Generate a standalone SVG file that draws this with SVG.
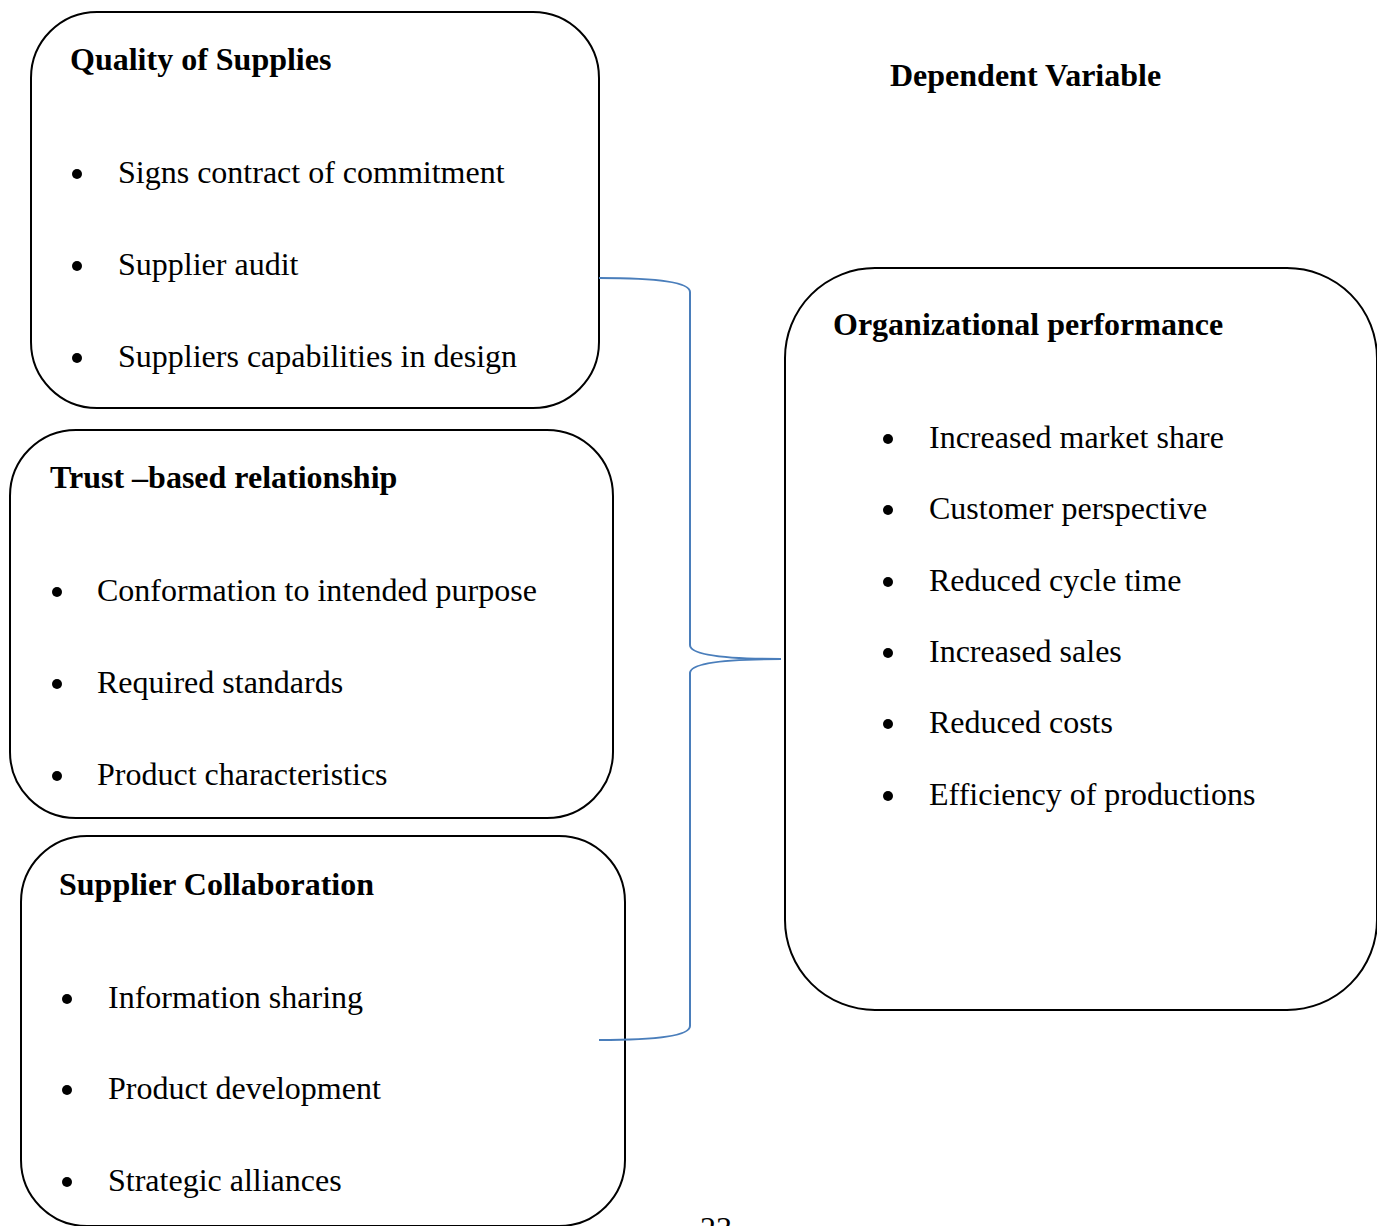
<svg xmlns="http://www.w3.org/2000/svg" width="1377" height="1226" viewBox="0 0 1377 1226">
<style>
.box{fill:#fff;stroke:#000;stroke-width:2}
.h{font-family:"Liberation Serif","Times New Roman",serif;font-weight:bold;font-size:32px;fill:#000}
.t{font-family:"Liberation Serif","Times New Roman",serif;font-size:32px;fill:#000}
.b{fill:#000}
.brace{fill:none;stroke:#4a7ebb;stroke-width:2}
</style>
<rect width="1377" height="1226" fill="#fff"/>
<text class="h" x="890" y="86">Dependent Variable</text>
<g id="quality">
<rect class="box" x="31" y="12" width="568" height="396" rx="66" ry="66"/>
<text class="h" x="70" y="70">Quality of Supplies</text>
<circle class="b" cx="77" cy="174" r="5"/><text class="t" x="118" y="183">Signs contract of commitment</text>
<circle class="b" cx="77" cy="266" r="5"/><text class="t" x="118" y="275">Supplier audit</text>
<circle class="b" cx="77" cy="358" r="5"/><text class="t" x="118" y="367">Suppliers capabilities in design</text>
</g>
<g id="trust">
<rect class="box" x="10" y="430" width="603" height="388" rx="66" ry="66"/>
<text class="h" x="50" y="488">Trust –based relationship</text>
<circle class="b" cx="57" cy="592" r="5"/><text class="t" x="97" y="601">Conformation to intended purpose</text>
<circle class="b" cx="57" cy="684" r="5"/><text class="t" x="97" y="693">Required standards</text>
<circle class="b" cx="57" cy="776" r="5"/><text class="t" x="97" y="785">Product characteristics</text>
</g>
<g id="collab">
<rect class="box" x="21" y="836" width="604" height="390" rx="66" ry="66"/>
<text class="h" x="59" y="895">Supplier Collaboration</text>
<circle class="b" cx="67" cy="999" r="5"/><text class="t" x="108" y="1008">Information sharing</text>
<circle class="b" cx="67" cy="1090" r="5"/><text class="t" x="108" y="1099">Product development</text>
<circle class="b" cx="67" cy="1182" r="5"/><text class="t" x="108" y="1191">Strategic alliances</text>
</g>
<g id="org">
<rect class="box" x="785" y="268" width="592" height="742" rx="90" ry="90"/>
<text class="h" x="833" y="335">Organizational performance</text>
<circle class="b" cx="888" cy="439" r="5"/><text class="t" x="929" y="448">Increased market share</text>
<circle class="b" cx="888" cy="510" r="5"/><text class="t" x="929" y="519">Customer perspective</text>
<circle class="b" cx="888" cy="582" r="5"/><text class="t" x="929" y="591">Reduced cycle time</text>
<circle class="b" cx="888" cy="653" r="5"/><text class="t" x="929" y="662">Increased sales</text>
<circle class="b" cx="888" cy="724" r="5"/><text class="t" x="929" y="733">Reduced costs</text>
<circle class="b" cx="888" cy="796" r="5"/><text class="t" x="929" y="805">Efficiency of productions</text>
</g>
<g id="connectors">
<path class="brace" d="M599,278 Q690,278 690,292 L690,645 Q690,659 781,659 Q690,659 690,673 L690,1026 Q690,1040 599,1040"/>
</g>
<text class="t" x="716" y="1239" text-anchor="middle">23</text>
</svg>
